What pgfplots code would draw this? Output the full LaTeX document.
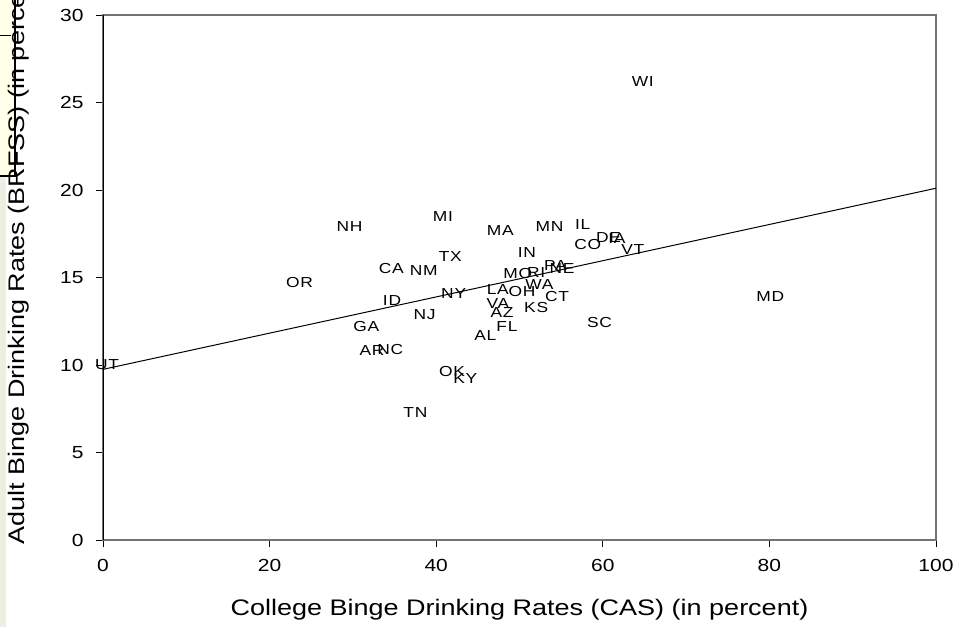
\documentclass[border=0pt]{standalone}
\usepackage{fontspec}
\setmainfont{Liberation Sans}[FakeStretch=1.2]
\newfontfamily\lblfont{Liberation Sans}[FakeStretch=1.2, LetterSpace=5]
\usepackage{pgfplots}
\pgfplotsset{compat=1.18}
\usepackage{pgfplotstable}
\definecolor{stripbg}{HTML}{EFEEE2}
\definecolor{boxbg}{HTML}{FFFFEA}
\pgfplotstableread{
x y label
64.8 26.2 WI
29.6 17.9 NH
40.8 18.5 MI
47.7 17.7 MA
53.6 17.9 MN
57.6 18.0 IL
58.2 16.9 CO
60.7 17.3 DE
61.7 17.2 IA
63.6 16.6 VT
50.9 16.4 IN
41.7 16.2 TX
34.6 15.5 CA
38.5 15.4 NM
23.6 14.7 OR
49.8 15.2 MO
52.0 15.3 RI
54.3 15.7 PA
55.1 15.5 NE
52.4 14.6 WA
47.4 14.3 LA
50.3 14.2 OH
54.5 13.9 CT
42.1 14.1 NY
34.7 13.7 ID
47.4 13.5 VA
47.9 13.0 AZ
52.0 13.3 KS
38.6 12.9 NJ
80.1 13.9 MD
59.6 12.4 SC
31.6 12.2 GA
48.5 12.2 FL
45.9 11.7 AL
32.3 10.8 AR
34.5 10.9 NC
41.9 9.6 OK
43.5 9.2 KY
37.5 7.3 TN
0.5 10.0 UT
}\statedata
\begin{document}
\begin{tikzpicture}
\useasboundingbox (-103pt,-87pt) rectangle (853pt,540pt);
\fill[stripbg] (-103pt,-87pt) rectangle (-97pt,540pt);
\fill[boxbg] (-103pt,365pt) rectangle (-88pt,540pt);
\draw[black, line width=2pt] (-88pt,540pt) -- (-88pt,364pt) -- (-103pt,364pt);
\draw[black, line width=0.8pt] (-103pt,505pt) -- (-92pt,505pt);
\begin{axis}[
  at={(0pt,0pt)}, anchor=south west,
  scale only axis, width=833pt, height=525pt,
  xmin=0, xmax=100, ymin=0, ymax=30,
  xtick={0,20,...,100}, ytick={0,5,...,30},
  xtick pos=bottom, ytick pos=left,
  tick align=outside, major tick length=7pt,
  tick style={black, line width=0.8pt},
  axis line style={draw=gray!90!black, line width=1.2pt},
  tick label style={font=\fontsize{17.5}{19}\selectfont, black},
  /pgf/number format/assume math mode=true,
  xticklabel style={yshift=-9pt},
  yticklabel style={xshift=-9pt},
  clip=false,
]
\draw[black, line width=0.9pt] (axis cs:0,0) -- (axis cs:0,30);
\addplot[black, line width=1pt, mark=none] coordinates {(0,9.75) (100,20.1)};
\addplot[only marks, mark=none, nodes near coords, point meta=explicit symbolic,
  every node near coord/.style={anchor=center, inner sep=0pt, font=\lblfont\fontsize{14.5}{15}\selectfont, text=black}]
  table[x=x, y=y, meta=label] {\statedata};
\end{axis}
\node[font=\fontsize{22.5}{25}\selectfont] at (416.5pt,-70pt) {College Binge Drinking Rates (CAS) (in percent)};
\node[font=\fontsize{22.5}{25}\selectfont, rotate=90] at (-84pt,287pt) {Adult Binge Drinking Rates (BRFSS) (in percent)};
\end{tikzpicture}
\end{document}
